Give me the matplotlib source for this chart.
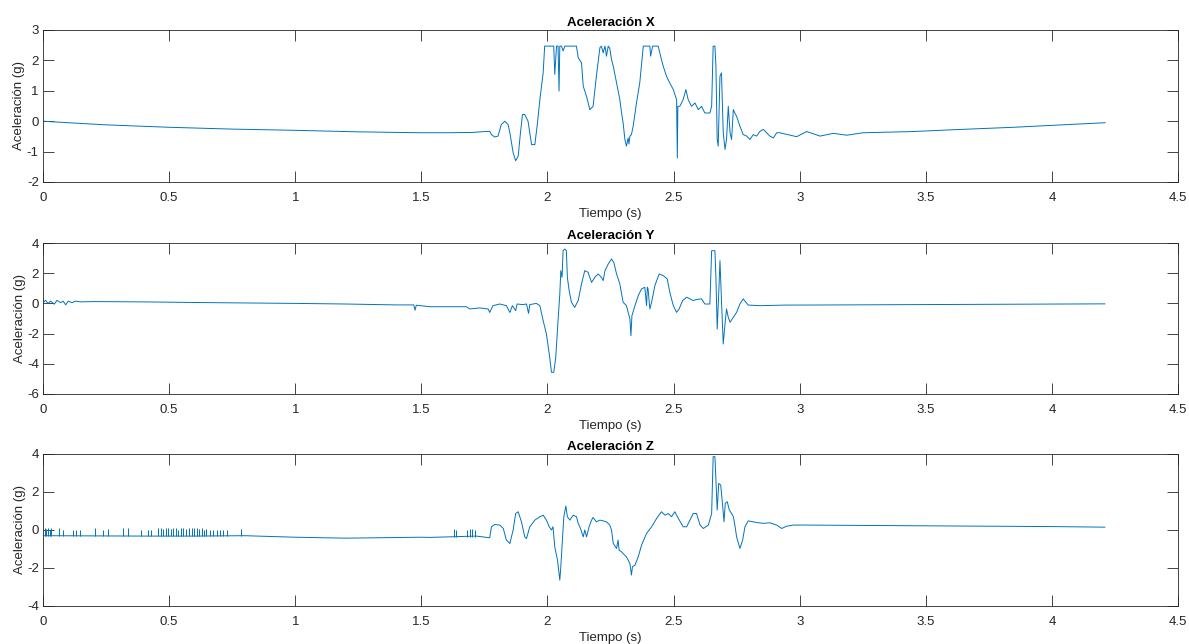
import matplotlib
matplotlib.use("Agg")
import matplotlib.pyplot as plt
import numpy as np

# ---------------- data ----------------
x_t = [0.0, 0.1, 0.25, 0.5, 0.75, 1.0, 1.25, 1.5, 1.6, 1.70, 1.771, 1.778, 1.791, 1.804, 1.817,
       1.831, 1.844, 1.851, 1.864, 1.874, 1.884, 1.893, 1.901, 1.910, 1.923, 1.937, 1.950,
       1.959, 1.970, 1.983, 1.989, 2.025, 2.029, 2.036, 2.042, 2.046, 2.049, 2.056, 2.062,
       2.069, 2.115, 2.122, 2.135, 2.142, 2.155, 2.168, 2.181, 2.194, 2.208, 2.214, 2.221,
       2.228, 2.234, 2.241, 2.247, 2.254, 2.261, 2.274, 2.287, 2.294, 2.300, 2.307, 2.313,
       2.320, 2.323, 2.327, 2.333, 2.340, 2.353, 2.366, 2.380, 2.406, 2.409, 2.417, 2.439,
       2.452, 2.459, 2.472, 2.485, 2.499, 2.512, 2.515, 2.517, 2.525, 2.538, 2.549, 2.558,
       2.571, 2.585, 2.598, 2.611, 2.624, 2.644, 2.651, 2.657, 2.664, 2.668, 2.673, 2.677,
       2.684, 2.690, 2.697, 2.704, 2.710, 2.717, 2.724, 2.730, 2.737, 2.743, 2.750, 2.763,
       2.776, 2.790, 2.803, 2.816, 2.829, 2.843, 2.856, 2.869, 2.882, 2.896, 2.909, 2.922,
       2.935, 2.948, 2.988, 3.028, 3.081, 3.133, 3.187, 3.252, 3.45, 3.583, 3.847, 4.112, 4.211]
x_v = [0.0, -0.05, -0.12, -0.2, -0.26, -0.3, -0.35, -0.38, -0.38, -0.37, -0.33, -0.44, -0.52, -0.49, -0.11,
       0.0, -0.11, -0.38, -1.04, -1.30, -1.15, -0.38, 0.22, 0.22, 0.0, -0.77, -0.77,
       -0.16, 0.71, 1.59, 2.47, 2.47, 1.54, 2.47, 2.47, 0.99, 2.47, 2.47, 2.31,
       2.47, 2.47, 2.09, 1.92, 1.15, 0.82, 0.38, 0.49, 1.48, 2.42, 2.47, 2.25,
       2.47, 2.14, 2.47, 2.40, 2.03, 1.81, 1.26, 0.71, 0.27, -0.05, -0.60, -0.82,
       -0.55, -0.75, -0.49, -0.44, -0.16, 0.60, 1.26, 2.47, 2.47, 2.14, 2.47, 2.47,
       2.03, 1.81, 1.48, 1.26, 1.04, 0.71, -1.21, 0.49, 0.49, 0.71, 1.04, 0.71,
       0.49, 0.60, 0.38, 0.49, 0.27, 0.27, 0.49, 2.47, 2.47, 1.81, -0.60, -0.82,
       1.48, 1.59, -0.38, -0.93, -0.60, 0.49, -0.38, -0.60, 0.38, 0.27, 0.16, -0.16,
       -0.44, -0.49, -0.60, -0.44, -0.49, -0.33, -0.27, -0.38, -0.49, -0.55, -0.38, -0.38,
       -0.41, -0.43, -0.51, -0.34, -0.49, -0.40, -0.46, -0.38, -0.34, -0.29, -0.2, -0.09, -0.05]

y_t = [0.0, 0.01, 0.02, 0.03, 0.045, 0.055, 0.07, 0.08, 0.09, 0.10, 0.115, 0.13, 0.15, 0.2,
       0.4, 0.6, 0.8, 1.0, 1.2, 1.4, 1.47, 1.475, 1.48, 1.533, 1.679, 1.692, 1.732, 1.765,
       1.771, 1.784, 1.811, 1.837, 1.851, 1.861, 1.874, 1.880, 1.903, 1.917, 1.925, 1.930,
       1.956, 1.970, 1.983, 1.996, 2.009, 2.016, 2.025, 2.033, 2.042, 2.049, 2.053, 2.058,
       2.062, 2.069, 2.075, 2.079, 2.086, 2.095, 2.108, 2.122, 2.135, 2.148, 2.161, 2.175,
       2.188, 2.201, 2.214, 2.221, 2.228, 2.241, 2.254, 2.263, 2.274, 2.287, 2.300, 2.313,
       2.327, 2.331, 2.335, 2.347, 2.360, 2.373, 2.386, 2.393, 2.396, 2.399, 2.406, 2.413,
       2.426, 2.443, 2.459, 2.475, 2.485, 2.499, 2.512, 2.522, 2.536, 2.552, 2.565, 2.578,
       2.591, 2.611, 2.624, 2.644, 2.651, 2.664, 2.668, 2.673, 2.679, 2.684, 2.690, 2.697,
       2.704, 2.710, 2.717, 2.724, 2.737, 2.750, 2.763, 2.776, 2.787, 2.796, 2.843, 2.896,
       2.948, 3.015, 3.5, 4.0, 4.21]
y_v = [0.05, 0.2, 0.0, 0.15, -0.05, 0.2, 0.05, 0.15, -0.1, 0.15, 0.05, 0.15, 0.1, 0.12,
       0.1, 0.06, 0.03, 0.0, -0.04, -0.1, -0.1, -0.45, -0.12, -0.22, -0.22, -0.37, -0.3, -0.37,
       -0.6, -0.15, -0.04, -0.15, -0.6, -0.15, -0.48, -0.04, -0.08, -0.04, -0.66, -0.08,
       0.0, -0.15, -1.14, -2.03, -3.57, -4.56, -4.56, -3.57, -1.14, 0.62, 2.17, 1.73,
       3.49, 3.60, 3.49, 1.73, 0.85, 0.08, -0.26, 0.19, 1.29, 2.17, 2.06, 1.39,
       1.73, 1.95, 1.73, 1.51, 2.17, 2.61, 2.94, 2.72, 1.95, 1.29, 0.08, -0.15,
       -1.03, -2.14, -0.81, -0.15, 0.51, 0.96, 1.07, -0.15, 1.07, 0.96, -0.37, 0.08,
       1.18, 1.95, 1.84, 1.62, 0.74, -0.15, -0.59, -0.37, 0.19, 0.41, 0.30, 0.19,
       0.26, 0.30, -0.04, -0.04, 3.49, 3.49, 1.73, -1.70, 0.62, 2.83, 0.19, -2.69,
       -1.36, -0.37, -0.92, -1.25, -0.92, -0.59, -0.04, 0.30, 0.08, -0.11, -0.15, -0.13,
       -0.11, -0.11, -0.08, -0.05, -0.03]

z_t = [0.0, 0.2, 0.4, 0.6, 0.8, 1.0, 1.2, 1.5, 1.533, 1.718, 1.771, 1.778, 1.791, 1.811,
       1.825, 1.837, 1.851, 1.864, 1.874, 1.884, 1.897, 1.910, 1.917, 1.930, 1.950, 1.970,
       1.983, 1.996, 2.007, 2.016, 2.022, 2.029, 2.040, 2.049, 2.053, 2.060, 2.065, 2.073,
       2.079, 2.089, 2.102, 2.115, 2.122, 2.131, 2.142, 2.148, 2.155, 2.165, 2.175, 2.181,
       2.194, 2.208, 2.221, 2.234, 2.247, 2.254, 2.261, 2.274, 2.280, 2.284, 2.294, 2.300,
       2.313, 2.327, 2.333, 2.337, 2.347, 2.360, 2.373, 2.393, 2.413, 2.433, 2.452, 2.466,
       2.479, 2.492, 2.505, 2.519, 2.538, 2.552, 2.565, 2.578, 2.591, 2.605, 2.618, 2.638,
       2.651, 2.657, 2.664, 2.668, 2.673, 2.679, 2.687, 2.695, 2.700, 2.705, 2.713, 2.721,
       2.730, 2.737, 2.743, 2.750, 2.763, 2.774, 2.783, 2.796, 2.816, 2.836, 2.856, 2.882,
       2.909, 2.929, 2.948, 2.975, 3.015, 3.5, 4.0, 4.21]
z_v = [-0.3, -0.31, -0.32, -0.32, -0.3, -0.38, -0.43, -0.38, -0.39, -0.32, -0.41, 0.17, 0.29, 0.26,
       0.08, -0.53, -0.71, 0.0, 0.87, 0.96, 0.43, -0.36, -0.45, 0.17, 0.52, 0.70,
       0.78, 0.52, 0.17, 0.0, 0.17, -0.89, -1.59, -2.64, -1.94, -0.36, 0.70, 1.26,
       0.70, 0.52, 0.78, 0.70, 0.35, 0.08, -0.36, 0.0, -0.36, 0.17, 0.52, 0.66,
       0.43, 0.52, 0.48, 0.43, 0.26, 0.0, -0.71, -0.97, -0.53, -1.06, -1.15, -1.24,
       -1.41, -1.76, -2.37, -1.94, -1.85, -1.41, -0.80, -0.18, 0.17, 0.61, 0.96, 0.78,
       0.87, 0.70, 0.96, 0.61, 0.17, 0.17, 0.52, 0.87, 0.87, 0.26, 0.08, 0.26,
       0.87, 3.86, 3.86, 2.63, 1.05, 2.45, 2.36, 1.22, 0.43, 1.40, 1.49, 1.05,
       0.87, 0.70, 0.26, -0.36, -0.97, -0.53, 0.17, 0.48, 0.43, 0.38, 0.35, 0.38,
       0.26, 0.08, 0.20, 0.26, 0.26, 0.22, 0.18, 0.15]

# short spikes on the Z trace
z_spike_t = [0.007, 0.013, 0.020, 0.026, 0.033, 0.063, 0.079, 0.119, 0.132, 0.146, 0.205,
             0.238, 0.258, 0.317, 0.337, 0.390, 0.417, 0.430, 0.456, 0.466, 0.476, 0.486,
             0.496, 0.506, 0.516, 0.526, 0.536, 0.546, 0.556, 0.566, 0.578, 0.589, 0.599,
             0.609, 0.620, 0.630, 0.640, 0.648, 0.661, 0.675, 0.688, 0.701, 0.714, 0.728,
             0.787, 1.628, 1.638, 1.681, 1.692, 1.702, 1.711]
z_spike_peak = [0.1, 0.05, 0.1, 0.0, 0.1, 0.1, 0.0, 0.0, 0.0, 0.0, 0.13,
                0.0, 0.05, 0.13, 0.1, 0.0, 0.0, 0.0, 0.1, 0.13, 0.05, 0.1,
                0.13, 0.05, 0.1, 0.13, 0.0, 0.1, 0.13, 0.05, 0.1, 0.13, 0.1,
                0.13, 0.05, 0.1, 0.0, 0.05, 0.0, 0.0, 0.0, 0.0, 0.0, 0.0,
                0.05, 0.03, 0.0, 0.0, 0.03, 0.03, 0.0]
z_spike_base = [-0.31] * 45 + [-0.39] * 6

titles = ["Aceleración X", "Aceleración Y", "Aceleración Z"]
ylims = [(-2, 3), (-6, 4), (-4, 4)]
xticks = [0, 0.5, 1, 1.5, 2, 2.5, 3, 3.5, 4, 4.5]
xtick_labels = ["0", "0.5", "1", "1.5", "2", "2.5", "3", "3.5", "4", "4.5"]

# ---------------- figure ----------------
plt.rcParams['font.family'] = ['Liberation Sans', 'DejaVu Sans']
plt.rcParams['axes.unicode_minus'] = False
W, H = 1189, 644
fig = plt.figure(figsize=(W / 100, H / 100), dpi=100)
fig.patch.set_facecolor('white')

boxes = [(43, 30, 1178, 182), (43, 243, 1178, 394), (43, 454, 1178, 606)]
line_color = '#0072BD'
ax_color = '#262626'
fs = 9.5
series = [(x_t, x_v), (y_t, y_v), (z_t, z_v)]

for i, (l, t, r, b) in enumerate(boxes):
    ax = fig.add_axes([l / W, 1 - b / H, (r - l) / W, (b - t) / H])
    ts, vs = series[i]
    ax.plot(ts, vs, color=line_color, linewidth=0.7)
    if i == 2:
        ax.vlines(z_spike_t, z_spike_base, z_spike_peak, color=line_color, linewidth=0.7)
    ax.set_xlim(0, 4.5)
    ax.set_ylim(*ylims[i])
    ax.set_xticks(xticks)
    ax.set_xticklabels(xtick_labels)
    ax.tick_params(direction='in', length=8, width=0.6, colors=ax_color,
                   labelsize=fs, top=True, right=True, pad=3)
    ax.tick_params(axis='x', pad=7)
    for s in ax.spines.values():
        s.set_color(ax_color)
        s.set_linewidth(0.6)
    ax.set_title(titles[i], fontsize=fs, fontweight='bold', color='black', pad=3)
    ax.set_xlabel("Tiempo (s)", fontsize=fs, color=ax_color, labelpad=3)
    ax.set_ylabel("Aceleración (g)", fontsize=fs, color=ax_color, labelpad=1)

fig.savefig("out.png", dpi=100, facecolor='white')
